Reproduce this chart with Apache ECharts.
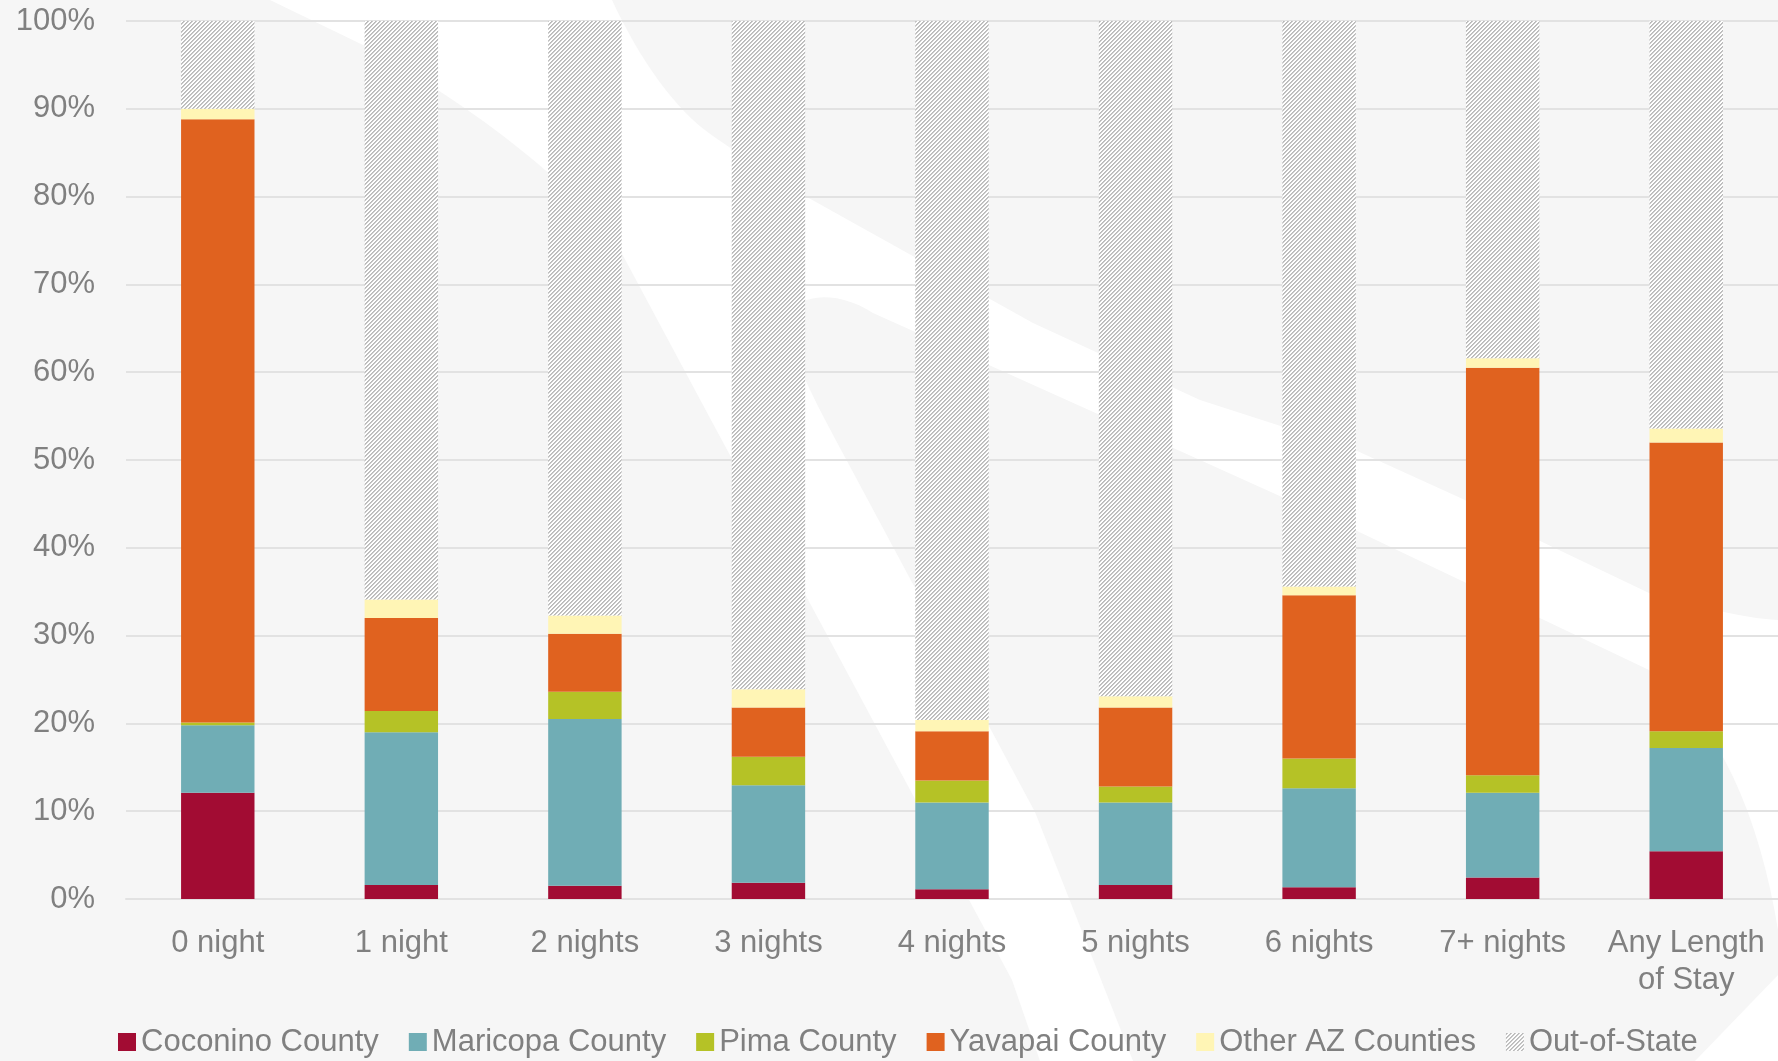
<!DOCTYPE html>
<html>
<head>
<meta charset="utf-8">
<script src="https://cdn.jsdelivr.net/npm/echarts@6/dist/echarts.min.js"></script>
<style>
html,body{margin:0;padding:0;background:#F6F6F6;}
#chart{width:1778px;height:1061px;}
</style>
</head>
<body>
<div id="chart"></div>
<script>
// ---- data ----
const categories = ['0 night','1 night','2 nights','3 nights','4 nights','5 nights','6 nights','7+ nights','Any Length\nof Stay'];
const seriesNames = ['Coconino County','Maricopa County','Pima County','Yavapai County','Other AZ Counties','Out-of-State'];
const coconino   = [12.1, 1.6, 1.5, 1.85, 1.1, 1.6, 1.35, 2.45, 5.45];
const maricopa   = [7.7, 17.4, 19.0, 11.1, 9.9, 9.4, 11.25, 9.65, 11.75];
const pima       = [0.3, 2.4, 3.1, 3.25, 2.5, 1.8, 3.4, 2.0, 1.9];
const yavapai    = [68.7, 10.6, 6.6, 5.6, 5.6, 9.0, 18.6, 46.4, 32.9];
const otherAZ    = [1.2, 2.1, 2.1, 2.1, 1.3, 1.3, 1.0, 1.1, 1.6];
const outOfState = [10.0, 65.9, 67.7, 76.1, 79.6, 76.9, 64.4, 38.4, 46.4];

// ---- hatch pattern ----
const pc = document.createElement('canvas');
pc.width = 8; pc.height = 8;
const pctx = pc.getContext('2d');
for (let y = 0; y < 8; y++) {
  for (let x = 0; x < 8; x++) {
    const m = (x + y) % 4;
    pctx.fillStyle = m === 0 ? '#B8B8B8' : (m === 1 ? '#C8C8C8' : '#FFFFFF');
    pctx.fillRect(x, y, 1, 1);
  }
}
const hatch = { image: pc, repeat: 'repeat' };

const colors = ['#A20C33', '#70ADB5', '#B5C226', '#E0621F', '#FFF5B5', hatch];
const values = [coconino, maricopa, pima, yavapai, otherAZ, outOfState];

// ---- decorative background swoosh (built from line / cubic segments) ----
function buildShape(start, segs) {
  const pts = [start.slice()];
  let cur = start;
  segs.forEach(s => {
    if (s.length === 1) { pts.push(s[0]); cur = s[0]; }
    else {
      const [c1, c2, e] = s;
      for (let k = 1; k <= 16; k++) {
        const t = k / 16, u = 1 - t;
        pts.push([
          u*u*u*cur[0] + 3*u*u*t*c1[0] + 3*u*t*t*c2[0] + t*t*t*e[0],
          u*u*u*cur[1] + 3*u*u*t*c1[1] + 3*u*t*t*c2[1] + t*t*t*e[1]
        ]);
      }
      cur = e;
    }
  });
  return pts;
}
const whitePts = buildShape([270,0], [
  [[612,0]], [[640,60],[675,110],[713,136]], [[780,182]], [[1033,323]], [[1200,400]], [[1355,450]],
  [[1465,500]], [[1538,540]], [[1649,593]], [[1700,606],[1740,618],[1778,620]], [[1778,1061]],
  [[1040,1061]], [[1012,980]], [[819,620]], [[711,420]], [[620,250]], [[580,190],[480,110],[363,45]]
]);
const grayPts = buildShape([790,322], [
  [[790,294],[835,288],[873,313]], [[1000,370]], [[1200,460]], [[1355,530]], [[1649,670]],
  [[1720,720],[1760,820],[1778,930]], [[1778,975]], [[1695,1061]], [[1133,1061]], [[1035,812]],
  [[854,474]], [[820,410],[790,360],[790,322]]
]);

const chart = echarts.init(document.getElementById('chart'), null, {renderer: 'canvas'});
const font = '"Liberation Sans", Arial, sans-serif';

chart.setOption({
  backgroundColor: '#F6F6F6',
  animation: false,
  graphic: [
    { type: 'polygon', z: -100, silent: true, shape: { points: whitePts }, style: { fill: '#FFFFFF' } },
    { type: 'polygon', z: -99, silent: true, shape: { points: grayPts }, style: { fill: '#F6F6F6' } }
  ],
  grid: { left: 126, right: 0, top: 21, bottom: 162, containLabel: false },
  legend: {
    left: 118, top: 1025, padding: 0,
    itemWidth: 18, itemHeight: 18, itemGap: 30,
    icon: 'rect',
    textStyle: { fontFamily: font, fontSize: 31, color: '#808080', lineHeight: 34 },
    data: seriesNames
  },
  xAxis: {
    type: 'category',
    data: categories,
    axisLine: { show: true, lineStyle: { color: '#E2E2E2', width: 2 } },
    axisTick: { show: false },
    axisLabel: { fontFamily: font, fontSize: 31, color: '#808080', margin: 26, lineHeight: 37, interval: 0 }
  },
  yAxis: {
    type: 'value',
    min: 0, max: 100, interval: 10,
    axisLine: { show: false },
    axisTick: { show: false },
    splitLine: { lineStyle: { color: '#E2E2E2', width: 2 } },
    axisLabel: { fontFamily: font, fontSize: 31, color: '#808080', margin: 31, formatter: '{value}%' }
  },
  series: seriesNames.map((name, i) => ({
    name: name,
    type: 'bar',
    stack: 'total',
    barWidth: '40%',
    data: values[i],
    itemStyle: { color: colors[i] },
    emphasis: { disabled: true }
  }))
});
</script>
</body>
</html>
